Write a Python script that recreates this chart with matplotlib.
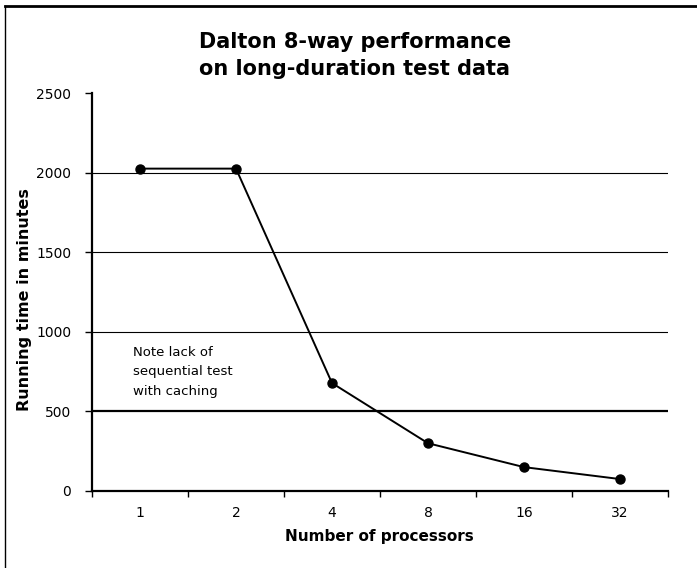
import matplotlib
matplotlib.use("Agg")
import matplotlib.pyplot as plt
from matplotlib.lines import Line2D

categories = ["1", "2", "4", "8", "16", "32"]
running_time = [2025, 2025, 678, 300, 150, 75]
y_ticks = [0, 500, 1000, 1500, 2000, 2500]

W, H = 697, 568
fig = plt.figure(figsize=(W / 100, H / 100), dpi=100)
ax = fig.add_axes([92 / W, 1 - 491 / H, (668 - 92) / W, (491 - 93) / H])

x = list(range(len(categories)))
ax.set_xlim(-0.5, len(categories) - 0.5)
ax.set_ylim(0, 2500)

for v in y_ticks[1:-1]:
    ax.axhline(v, color="black", lw=1.6 if v == 500 else 0.8, zorder=1)

ax.plot(x, running_time, color="black", lw=1.4, marker="o", markersize=6.5,
        zorder=3, clip_on=False)

ax.set_yticks(y_ticks)
ax.set_yticklabels([str(v) for v in y_ticks], fontsize=10)
ax.set_xticks(x)
ax.set_xticklabels(categories, fontsize=10)
ax.tick_params(axis="x", length=0, pad=11)
ax.set_xticks([i - 0.5 for i in range(len(categories) + 1)], minor=True)
ax.tick_params(axis="x", which="minor", length=4, width=1, direction="out")
ax.tick_params(axis="y", length=5, width=1, direction="out", pad=10)

for s in ["top", "right"]:
    ax.spines[s].set_visible(False)
ax.spines["left"].set_linewidth(1.6)
ax.spines["bottom"].set_linewidth(1.6)

fig.text(25 / W, 1 - 300 / H, "Running time in minutes", rotation=90, ha="center",
         va="center", fontsize=11.5, fontweight="bold")
fig.text(379 / W, 1 - 537 / H, "Number of processors", ha="center", va="center",
         fontsize=11, fontweight="bold")

fig.text(355 / W, 1 - 42 / H, "Dalton 8-way performance", ha="center", va="center",
         fontsize=15, fontweight="bold")
fig.text(355 / W, 1 - 69 / H, "on long-duration test data", ha="center", va="center",
         fontsize=15, fontweight="bold")

fig.text(133 / W, 1 - 352 / H, "Note lack of", ha="left", va="center", fontsize=9.5)
fig.text(133 / W, 1 - 372 / H, "sequential test", ha="left", va="center", fontsize=9.5)
fig.text(133 / W, 1 - 392 / H, "with caching", ha="left", va="center", fontsize=9.5)

# outer frame (top and left)
fig.add_artist(Line2D([5 / W, 1], [1 - 6 / H, 1 - 6 / H], color="black", lw=2,
                      transform=fig.transFigure))
fig.add_artist(Line2D([5 / W, 5 / W], [0, 1 - 6 / H], color="black", lw=1,
                      transform=fig.transFigure))

fig.savefig("out.png", dpi=100)
